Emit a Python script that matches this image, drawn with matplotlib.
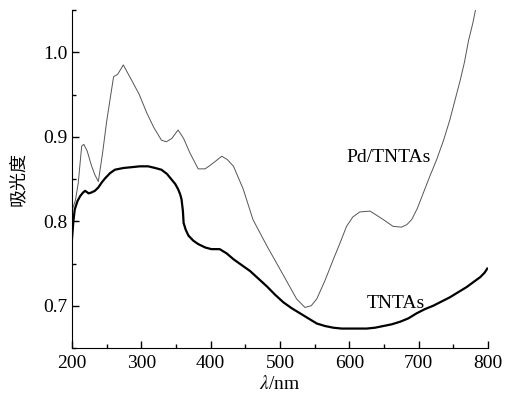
import matplotlib
matplotlib.use("Agg")
import matplotlib.pyplot as plt
from matplotlib.ticker import MultipleLocator

plt.rcParams['font.family'] = ['Liberation Serif', 'Noto Sans CJK SC']
plt.rcParams['mathtext.fontset'] = 'stix'

# Pd/TNTAs spectrum
pd_wl = [201, 205, 209, 214, 217, 222, 228, 233, 238, 244, 250, 256, 260, 266, 274,
         280, 286, 297, 308, 318, 329, 336, 344, 353, 361, 370, 382, 392, 399, 407,
         416, 424, 433, 447, 461, 481, 505, 524, 536, 545, 553, 565, 577, 587, 596,
         605, 615, 630, 649, 663, 675, 683, 690, 698, 707, 716, 726, 736, 745, 752,
         760, 766, 772, 778, 782]
pd_abs = [0.815, 0.825, 0.845, 0.889, 0.891, 0.883, 0.866, 0.855, 0.847, 0.880, 0.918,
          0.950, 0.971, 0.974, 0.985, 0.976, 0.967, 0.950, 0.928, 0.911, 0.896, 0.894,
          0.898, 0.908, 0.898, 0.881, 0.862, 0.862, 0.866, 0.871, 0.877, 0.873, 0.865,
          0.838, 0.802, 0.771, 0.736, 0.708, 0.698, 0.700, 0.708, 0.730, 0.755, 0.775,
          0.794, 0.805, 0.811, 0.812, 0.802, 0.794, 0.793, 0.796, 0.802, 0.815, 0.834,
          0.853, 0.873, 0.896, 0.920, 0.942, 0.967, 0.988, 1.014, 1.034, 1.05]

# TNTAs spectrum
tn_wl = [200, 202, 204, 208, 212, 216, 219, 224, 228, 233, 238, 243, 248, 255, 262,
         274, 286, 298, 310, 320, 329, 337, 344, 349, 353, 356, 358, 360, 361, 364,
         368, 375, 382, 392, 401, 413, 423, 433, 445, 457, 469, 481, 493, 505, 517,
         529, 541, 553, 565, 577, 589, 601, 613, 625, 637, 649, 661, 673, 685, 697,
         709, 721, 733, 745, 757, 769, 779, 789, 795, 799]
tn_abs = [0.779, 0.800, 0.814, 0.824, 0.830, 0.834, 0.836, 0.833, 0.834, 0.836, 0.840,
          0.846, 0.851, 0.857, 0.861, 0.863, 0.864, 0.865, 0.865, 0.863, 0.861, 0.856,
          0.849, 0.844, 0.838, 0.832, 0.826, 0.812, 0.798, 0.790, 0.783, 0.777, 0.773,
          0.769, 0.767, 0.767, 0.762, 0.755, 0.748, 0.741, 0.732, 0.723, 0.713, 0.704,
          0.697, 0.691, 0.685, 0.679, 0.676, 0.674, 0.673, 0.673, 0.673, 0.673, 0.674,
          0.676, 0.678, 0.681, 0.685, 0.691, 0.696, 0.700, 0.705, 0.710, 0.716, 0.722,
          0.728, 0.734, 0.739, 0.744]

fig = plt.figure(figsize=(5.16, 4.0), dpi=100)
ax = fig.add_axes([0.1395, 0.13, 0.8062, 0.845])

ax.plot(pd_wl, pd_abs, color='#555555', lw=0.7)
ax.plot(tn_wl, tn_abs, color='black', lw=1.6)

ax.text(656, 0.876, 'Pd/TNTAs', fontsize=14, ha='center', va='center')
ax.text(667, 0.703, 'TNTAs', fontsize=14, ha='center', va='center')

ax.set_xlim(200, 800)
ax.set_ylim(0.65, 1.05)
ax.xaxis.set_major_locator(MultipleLocator(100))
ax.xaxis.set_minor_locator(MultipleLocator(50))
ax.yaxis.set_major_locator(MultipleLocator(0.1))
ax.yaxis.set_minor_locator(MultipleLocator(0.05))
ax.tick_params(which='both', direction='in', labelsize=14, width=1)
ax.tick_params(which='major', length=5)
ax.tick_params(which='minor', length=3)
ax.tick_params(axis='x', pad=5)
ax.tick_params(axis='y', pad=3)

ax.spines['top'].set_visible(False)
ax.spines['right'].set_visible(False)

ax.set_xlabel(r'$\lambda$/nm', fontsize=14, labelpad=2)
ax.set_ylabel('吸光度', fontsize=13, labelpad=12)

plt.savefig('out.png', dpi=100)
